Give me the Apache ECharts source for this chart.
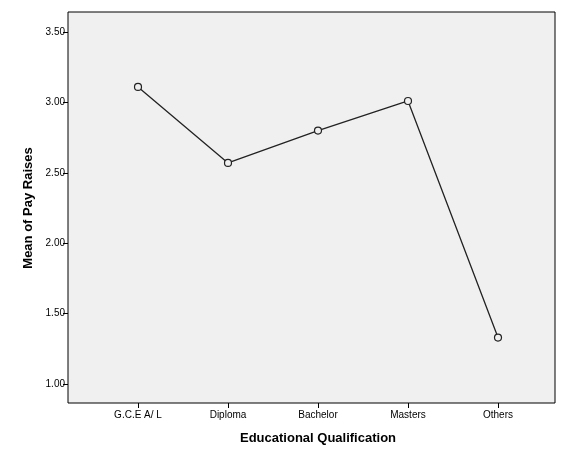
<!DOCTYPE html><html><head><meta charset="utf-8">
<script src="https://cdn.jsdelivr.net/npm/echarts@6/dist/echarts.min.js"></script></head>
<body style="margin:0;background:#fff"><div id="c" style="width:580px;height:464px"></div>
<script>
const categories=['G.C.E A/ L','Diploma','Bachelor','Masters','Others'];
const meanPayRaises=[3.11,2.57,2.80,3.01,1.33];
const ch=echarts.init(document.getElementById('c'));
const f="Liberation Sans, Arial, sans-serif";
ch.setOption({animation:false,
grid:[{left:68,right:25,top:12,bottom:61,show:true,backgroundColor:'#f0f0f0',borderColor:'#000',borderWidth:1},
{left:93,right:37,top:32,bottom:80}],
xAxis:[{gridIndex:0,type:'value',show:false,min:0,max:1},
{gridIndex:1,type:'category',data:categories,boundaryGap:true,offset:19,
axisLine:{show:false},axisTick:{show:true,alignWithLabel:true,length:5,lineStyle:{color:'#000'}},
axisLabel:{color:'#000',fontSize:10,fontFamily:f,margin:7},
name:'Educational Qualification',nameLocation:'middle',nameGap:29,
nameTextStyle:{fontSize:13,fontWeight:'bold',fontFamily:f,color:'#000'}}],
yAxis:[{gridIndex:0,type:'value',show:false,min:0,max:1},
{gridIndex:1,type:'value',min:1,max:3.5,interval:0.5,offset:25,
axisLine:{show:false},axisTick:{show:true,length:5,lineStyle:{color:'#000'}},splitLine:{show:false},
axisLabel:{color:'#000',fontSize:10,fontFamily:f,formatter:v=>v.toFixed(2),margin:3},
name:'Mean of Pay Raises',nameLocation:'middle',nameGap:31,
nameTextStyle:{fontSize:13,fontWeight:'bold',fontFamily:f,color:'#000'}}],
series:[{type:'line',xAxisIndex:1,yAxisIndex:1,data:meanPayRaises,symbol:'circle',symbolSize:7,
lineStyle:{color:'#222',width:1.3},itemStyle:{color:'#f0f0f0',borderColor:'#222',borderWidth:1.2}}]});
</script></body></html>
